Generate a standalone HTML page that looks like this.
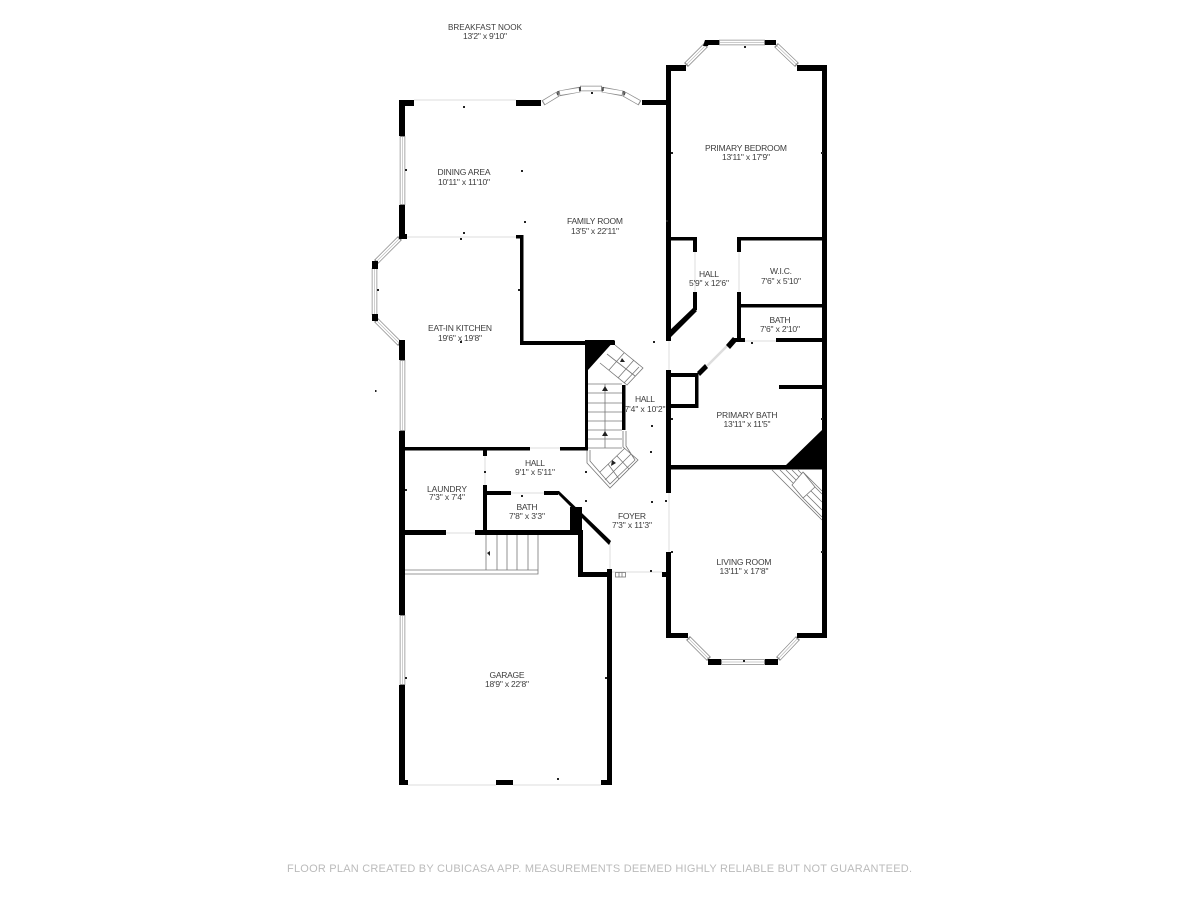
<!DOCTYPE html>
<html lang="en"><head><meta charset="utf-8"><title>Floor plan</title>
<style>
html,body{margin:0;padding:0;background:#fff;width:1200px;height:900px;overflow:hidden}
svg{display:block}
text{font-family:"Liberation Sans",sans-serif;font-size:8.5px;fill:#3c3c3c;text-anchor:middle}
.f{font-size:11px;fill:#bbb;text-anchor:start}
</style></head><body>
<svg width="1200" height="900" viewBox="0 0 1200 900" xmlns="http://www.w3.org/2000/svg">
<rect width="1200" height="900" fill="#fff"/>

<!-- light door/opening lines -->
<g stroke="#ddd" stroke-width="1" fill="none">
<path d="M414 100H516M405 237H516M695 252V292M739 252V292M745 341H776M669 341V370M669 493V552M511 493H544M485 456V485M446 533H475M530 448H560M610 543V572H662M408 785H496M513 785H601"/>
<path d="M727 346L707 366" stroke-width="2.5"/>
</g>

<!-- windows -->
<g stroke="#8c8c8c" stroke-width="5.500" fill="none">
<path d="M402.500 136V205M402.500 360V431M402.500 615V685M376 262L400 238M374.500 268V315M376 320L400 344M719 42.500H765M686 65L706 45M776 45L797 65M688 638L709 659M721 662H765M778 659L798 638M543 103L558 94M559 93.500L580 89.500M580 88.500H602M602 89.500L623 93.500M624 94L640 103"/>
</g>
<g stroke="#fff" stroke-width="4" fill="none">
<path d="M402.500 137V204M402.500 361V430M402.500 616V684M377 261L399 239M374.500 269V314M377 321L399 343M720 42.500H764M687 64L705 46M777 46L796 64M689 639L708 658M722 662H764M779 658L797 639M544 102.500L557 94.500M560 93L579 90M581 88.500H601M603 90L622 93M625 94.500L639 102.500"/>
</g>
<g stroke="#bbb" stroke-width=".7" fill="none">
<path d="M402.500 137V204M402.500 361V430M402.500 616V684M377 261L399 239M374.500 269V314M377 321L399 343M720 42.500H764M687 64L705 46M777 46L796 64M689 639L708 658M722 662H764M779 658L797 639"/>
</g>
<g stroke="#222" stroke-width="1.200" fill="none">
<path d="M558 91V95M580 87V91M603 87V91M624 91V95"/>
</g>

<!-- stairs -->
<g stroke="#777" stroke-width=".8" fill="none">
<path d="M588 384H622M588 393H622M588 403H622M588 412H622M588 421H622M588 430H622M588 439H622M588 448H622M605 384V448"/>
<path d="M615 345L643 368L627 385L600 363M639 367L624 383M607 354L635 376M624 353L609 370M634 360L618 378"/>
<path d="M623 431V447L638 460L610 488L587 463V450M626 431V446L635 460L610 484L590 461V450M600 472L625 448M605 480L631 454M608 464L619 479M617 456L629 469"/>
<path d="M486 535V570M497 535V570M507 535V570M517 535V570M528 535V570M538 535V574H405M405 570H538"/>
<path d="M772 470L822 520M780 470L793 483M786 470L796 480M792 470L799 477M798 470L802 474M803 472L815 487L803 498L792 485ZM803 472L822 491M815 487L822 494M811 491L822 502M807 495L822 510M803 498L822 517"/>
<rect x="615.500" y="572.500" width="10" height="4.500"/><path d="M619 572.500V577M622 572.500V577"/>
</g>

<!-- walls -->
<g fill="#000">
<rect x="399" y="100" width="6" height="36"/><rect x="399" y="100" width="15" height="6"/>
<rect x="399" y="205" width="6" height="33"/><rect x="399" y="340" width="6" height="20"/>
<rect x="399" y="431" width="6" height="184"/><rect x="399" y="685" width="6" height="100"/>
<rect x="399" y="780" width="9" height="5"/><rect x="496" y="780" width="17" height="5"/><rect x="601" y="780" width="11" height="5"/>
<rect x="516" y="100" width="25" height="6"/><rect x="642" y="100" width="25" height="5"/>
<rect x="372" y="261" width="6" height="8"/><rect x="372" y="314" width="6" height="7"/>
<rect x="399" y="234" width="8" height="5"/>
<rect x="666" y="65" width="5" height="276"/><rect x="666" y="65" width="20" height="6"/>
<rect x="705" y="40" width="14" height="5"/><polygon points="705,40 710,40 708,46 703,46"/>
<rect x="765" y="40" width="11" height="5"/>
<rect x="797" y="65" width="30" height="6"/><rect x="822" y="65" width="5" height="573"/>
<rect x="666" y="370" width="5" height="123"/><rect x="666" y="552" width="5" height="86"/>
<rect x="662" y="572" width="5" height="5"/>
<rect x="666" y="633" width="22" height="5"/>
<rect x="708" y="659" width="13" height="6"/><rect x="765" y="659" width="13" height="6"/>
<rect x="797" y="633" width="30" height="5"/>
<rect x="670" y="237" width="27" height="3.500"/><rect x="693" y="237" width="4" height="15"/><rect x="693" y="292" width="4" height="18"/>
<polygon points="693,308 697,311 671,337 668,332"/>
<rect x="737" y="237" width="85" height="3.500"/><rect x="737" y="237" width="4" height="15"/><rect x="737" y="292" width="4" height="50"/>
<rect x="739" y="304" width="83" height="3.500"/>
<rect x="733" y="338" width="12" height="4"/><rect x="776" y="338" width="46" height="4"/>
<polygon points="733,337 737,341 730,349 726,345"/>
<polygon points="705,364 708,368 700,376 697,372"/>
<rect x="670" y="373" width="28" height="4"/><rect x="695" y="373" width="3.500" height="35"/><rect x="670" y="404" width="28" height="4"/>
<rect x="779" y="385" width="43" height="4"/>
<polygon points="785,466 822,430 822,466"/>
<rect x="670" y="465" width="152" height="4.500"/>
<rect x="516" y="235" width="7" height="3.500"/><rect x="520" y="235" width="3.500" height="110"/>
<rect x="520" y="341" width="95" height="4"/>
<polygon points="585,340 615,340 588,370 588,450 585,450"/>
<rect x="622" y="385" width="3.500" height="45"/>
<rect x="405" y="447" width="125" height="3.500"/><rect x="560" y="447" width="28" height="3.500"/>
<rect x="483" y="447" width="4" height="9"/><rect x="483" y="485" width="4" height="49"/>
<rect x="486" y="491" width="25" height="4"/><rect x="544" y="491" width="14" height="4"/>
<polygon points="555,491 559,491 611,541 609,545"/>
<rect x="570" y="507" width="12" height="27"/>
<rect x="405" y="530" width="41" height="5"/><rect x="475" y="530" width="108" height="5"/>
<rect x="578" y="533" width="5" height="44"/><rect x="578" y="572" width="34" height="5"/>
<rect x="607" y="569" width="5" height="216"/>
</g>

<!-- tick dots -->
<g fill="#222">
<rect x="463" y="106" width="2" height="2"/><rect x="591" y="92" width="2" height="2"/><rect x="405" y="169" width="2" height="2"/><rect x="521" y="170" width="2" height="2"/><rect x="524" y="221" width="2" height="2"/><rect x="666" y="220" width="2" height="2"/><rect x="671" y="152" width="2" height="2"/><rect x="821" y="152" width="2" height="2"/><rect x="463" y="232" width="2" height="2"/><rect x="460" y="238" width="2" height="2"/><rect x="377" y="289" width="2" height="2"/><rect x="518" y="289" width="2" height="2"/><rect x="460" y="341" width="2" height="2"/><rect x="375" y="390" width="1.500" height="2"/><rect x="653" y="341" width="2" height="2"/><rect x="751" y="342" width="2" height="2"/><rect x="651" y="425" width="2" height="2"/><rect x="671" y="418" width="2" height="2"/><rect x="821" y="418" width="2" height="2"/><rect x="650" y="451" width="2" height="2"/><rect x="585" y="471" width="2" height="2"/><rect x="484" y="471" width="2" height="2"/><rect x="405" y="489" width="2" height="2"/><rect x="585" y="500" width="2" height="2"/><rect x="665" y="500" width="2" height="2"/><rect x="651" y="501" width="2" height="2"/><rect x="521" y="495" width="2" height="2"/><rect x="671" y="551" width="2" height="2"/><rect x="821" y="551" width="2" height="2"/><rect x="650" y="570" width="2" height="2"/><rect x="743" y="660" width="2" height="2"/><rect x="405" y="677" width="2" height="2"/><rect x="605" y="677" width="2" height="2"/><rect x="557" y="778" width="2" height="2"/><rect x="744" y="46" width="2" height="2"/>
<polygon points="605,386 608,391 602,391"/><polygon points="605,431 608,436 602,436"/><polygon points="622,358 625,362 620,362"/><polygon points="612,460 616,463 611,466"/><polygon points="487,553 490,551 490,556"/>
</g>

<!-- labels -->
<text x="485" y="30" textLength="74" lengthAdjust="spacingAndGlyphs">BREAKFAST NOOK</text><text x="485" y="39" textLength="44">13'2" x 9'10"</text>
<text x="464" y="175" textLength="53">DINING AREA</text><text x="464" y="185" textLength="52">10'11" x 11'10"</text>
<text x="595" y="224" textLength="56">FAMILY ROOM</text><text x="595" y="234" textLength="48">13'5" x 22'11"</text>
<text x="746" y="151" textLength="82">PRIMARY BEDROOM</text><text x="746" y="160" textLength="48">13'11" x 17'9"</text>
<text x="709" y="277" textLength="20">HALL</text><text x="709" y="286" textLength="40">5'9" x 12'6"</text>
<text x="781" y="274" textLength="22">W.I.C.</text><text x="781" y="284" textLength="40">7'6" x 5'10"</text>
<text x="780" y="323" textLength="21">BATH</text><text x="780" y="332" textLength="40">7'6" x 2'10"</text>
<text x="747" y="418" textLength="61">PRIMARY BATH</text><text x="747" y="427" textLength="47">13'11" x 11'5"</text>
<text x="460" y="331" textLength="64">EAT-IN KITCHEN</text><text x="460" y="341" textLength="44">19'6" x 19'8"</text>
<text x="645" y="402" textLength="20">HALL</text><text x="645" y="412" textLength="41">7'4" x 10'2"</text>
<text x="535" y="466" textLength="20">HALL</text><text x="535" y="475" textLength="40">9'1" x 5'11"</text>
<text x="447" y="492" textLength="40">LAUNDRY</text><text x="447" y="500" textLength="36">7'3" x 7'4"</text>
<text x="527" y="510" textLength="21">BATH</text><text x="527" y="519" textLength="36">7'8" x 3'3"</text>
<text x="632" y="519" textLength="28">FOYER</text><text x="632" y="528" textLength="40">7'3" x 11'3"</text>
<text x="744" y="565" textLength="55">LIVING ROOM</text><text x="744" y="574" textLength="49">13'11" x 17'8"</text>
<text x="507" y="678" textLength="35">GARAGE</text><text x="507" y="687" textLength="44">18'9" x 22'8"</text>
<text class="f" x="287" y="872" textLength="625">FLOOR PLAN CREATED BY CUBICASA APP. MEASUREMENTS DEEMED HIGHLY RELIABLE BUT NOT GUARANTEED.</text>
</svg>
</body></html>
